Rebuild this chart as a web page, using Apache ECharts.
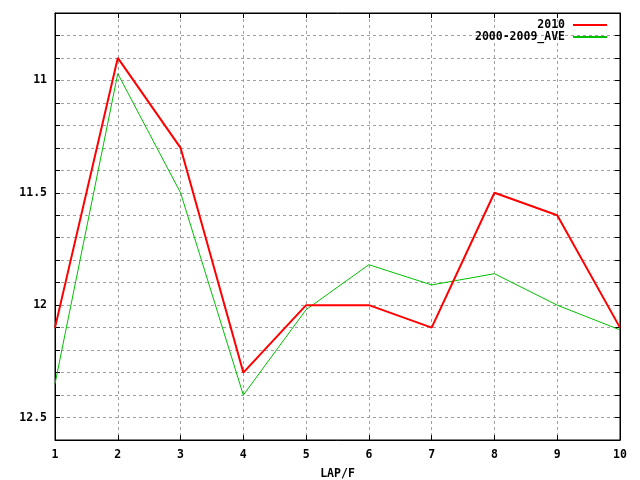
<!DOCTYPE html>
<html>
<head>
<meta charset="utf-8">
<script src="https://cdn.jsdelivr.net/npm/echarts@6/dist/echarts.min.js"></script>
<style>html,body{margin:0;padding:0;background:#fff}#c{width:640px;height:480px}</style>
</head>
<body>
<div id="c"></div>
<script>
const laps = [1, 2, 3, 4, 5, 6, 7, 8, 9, 10];
const y2010 = [12.1, 10.9, 11.3, 12.3, 12.0, 12.0, 12.1, 11.5, 11.6, 12.1];
const yAve = [12.35, 10.97, 11.5, 12.4, 12.02, 11.82, 11.91, 11.86, 12.0, 12.11];
const seriesNames = ['2010', '2000-2009_AVE'];
const xLabel = 'LAP/F';

const FONT = 'DejaVu Sans Mono';
const txt = {fontFamily: FONT, fontSize: 11.5, fontWeight: 'bold', color: '#000'};
const isHalf = v => Math.abs(v * 2 - Math.round(v * 2)) < 1e-6;
const gridLine = () => ({show: true, lineStyle: {color: '#a0a0a0', type: [3, 3]}});

const chart = echarts.init(document.getElementById('c'));
chart.setOption({
  animation: false,
  backgroundColor: '#fff',
  grid: {left: 55, right: 20, top: 13, bottom: 40, show: true, borderColor: '#000', borderWidth: 1,
         containLabel: false, outerBoundsMode: 'none'},
  legend: {
    show: true, padding: 0, z: 20, zlevel: 1,
    orient: 'vertical', right: 33, top: 19, align: 'right', itemGap: 0,
    itemWidth: 34, itemHeight: 2, icon: 'rect',
    itemStyle: {borderWidth: 0},
    lineStyle: {type: 'solid'},
    textStyle: {fontFamily: FONT, fontSize: 11.5, fontWeight: 'bold', color: '#000', height: 12, lineHeight: 12, padding: [0, 3, 0, 0]},
    data: seriesNames
  },
  xAxis: [{
    type: 'value', min: 1, max: 10, interval: 1,
    name: xLabel, nameLocation: 'middle', nameGap: 28, nameTextStyle: txt,
    axisLine: {show: true, lineStyle: {color: '#000'}},
    axisTick: {show: true, inside: true, length: 5, lineStyle: {color: '#000'}},
    axisLabel: Object.assign({margin: 9}, txt),
    splitLine: gridLine()
  }, {
    type: 'value', min: 1, max: 10, interval: 1, position: 'top',
    axisLine: {show: true, lineStyle: {color: '#000'}},
    axisTick: {show: true, inside: true, length: 5, lineStyle: {color: '#000'}},
    axisLabel: {show: false}, splitLine: {show: false}
  }],
  yAxis: [{
    type: 'value', min: 10.7, max: 12.6, interval: 0.1, inverse: true,
    axisLine: {show: true, lineStyle: {color: '#000'}},
    axisTick: {show: true, inside: true, length: 5, lineStyle: {color: '#000'}},
    axisLabel: Object.assign({margin: 8, formatter: v => isHalf(v) ? String(Math.round(v * 2) / 2) : ''}, txt),
    splitLine: gridLine()
  }, {
    type: 'value', min: 10.7, max: 12.6, interval: 0.1, inverse: true, position: 'right',
    axisLine: {show: true, lineStyle: {color: '#000'}},
    axisTick: {show: true, inside: true, length: 5, lineStyle: {color: '#000'}},
    axisLabel: {show: false}, splitLine: {show: false}
  }],
  series: [{
    name: seriesNames[0], type: 'line', symbol: 'none', z: 3,
    data: laps.map((x, i) => [x, y2010[i]]),
    lineStyle: {color: '#ff0000', width: 2, type: 'solid'}, itemStyle: {color: '#ff0000', borderWidth: 0}
  }, {
    name: seriesNames[1], type: 'line', symbol: 'none', z: 2,
    data: laps.map((x, i) => [x, yAve[i]]),
    lineStyle: {color: '#00c000', width: 1, type: 'solid'}, itemStyle: {color: '#00c000', borderWidth: 0}
  }]
});
</script>
</body>
</html>
